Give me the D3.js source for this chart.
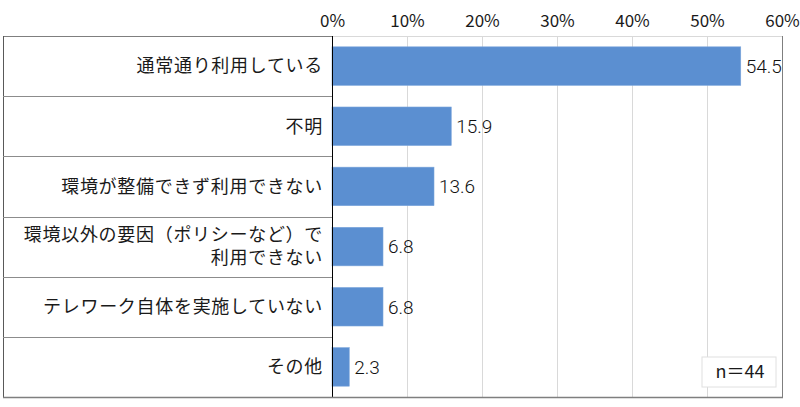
<!DOCTYPE html>
<html><head><meta charset="utf-8">
<script src="https://cdn.jsdelivr.net/npm/d3@7"></script>
<style>
html,body{margin:0;padding:0;background:#fff;}
svg{display:block;}
</style></head>
<body>
<svg id="c" width="800" height="407"></svg>
<script>
const categories = [
  ["通常通り利用している"],
  ["不明"],
  ["環境が整備できず利用できない"],
  ["環境以外の要因（ポリシーなど）で", "利用できない"],
  ["テレワーク自体を実施していない"],
  ["その他"]
];
const values = [54.5, 15.9, 13.6, 6.8, 6.8, 2.3];
const ticks = [0, 10, 20, 30, 40, 50, 60];
const note = "n＝44";

(function() {
const svg = d3.select("#c");
const pL = 332, pR = 782, pT = 36, pB = 397, tableLeft = 3;
const font = "'Noto Sans CJK JP', 'Noto Sans', sans-serif";
const numFont = "Roboto, 'Noto Sans', sans-serif";

const x = d3.scaleLinear().domain([0, 60]).range([pL, pR]);
const y = d3.scaleBand().domain(d3.range(categories.length)).range([pT, pB]).paddingInner(0.36).paddingOuter(0.18);
const rows = d3.scaleBand().domain(d3.range(categories.length)).range([pT, pB]);

// gridlines
svg.append("g").selectAll("line").data(ticks.slice(1, -1)).join("line")
  .attr("x1", d => Math.round(x(d)) + 0.5).attr("x2", d => Math.round(x(d)) + 0.5)
  .attr("y1", pT).attr("y2", pB)
  .attr("stroke", "#d9d9d9").attr("stroke-width", 1);

// plot top border
svg.append("line").attr("x1", pL).attr("x2", pR).attr("y1", pT + 0.5).attr("y2", pT + 0.5)
  .attr("stroke", "#d9d9d9");
// right border
svg.append("line").attr("x1", pR + 0.5).attr("x2", pR + 0.5).attr("y1", pT).attr("y2", pB)
  .attr("stroke", "#7f7f7f");

// table
svg.append("line").attr("x1", tableLeft).attr("x2", pL).attr("y1", pT + 0.5).attr("y2", pT + 0.5)
  .attr("stroke", "#7f7f7f");
svg.append("line").attr("x1", tableLeft + 0.5).attr("x2", tableLeft + 0.5).attr("y1", pT).attr("y2", pB)
  .attr("stroke", "#595959");
svg.append("g").selectAll("line").data(d3.range(1, categories.length)).join("line")
  .attr("x1", tableLeft).attr("x2", pL)
  .attr("y1", d => Math.round(rows(d)) + 0.5).attr("y2", d => Math.round(rows(d)) + 0.5)
  .attr("stroke", "#8c8c8c");

// bars
svg.append("g").selectAll("rect").data(values).join("rect")
  .attr("x", x(0)).attr("y", (d, i) => y(i))
  .attr("width", d => x(d) - x(0)).attr("height", y.bandwidth())
  .attr("fill", "#5b8fd1").attr("stroke", "#7aa5db").attr("stroke-width", 0.6);

// value labels
svg.append("g").selectAll("text").data(values).join("text")
  .attr("x", d => x(d) + 5).attr("y", (d, i) => y(i) + y.bandwidth() / 2)
  .attr("dy", "0.36em")
  .attr("font-family", numFont).attr("font-size", 19).attr("font-weight", 300)
  .attr("fill", "#111")
  .text(d => d.toFixed(1));

// category labels
const lh = 23;
const lab = svg.append("g").selectAll("text").data(categories).join("text")
  .attr("text-anchor", "end")
  .attr("font-family", font).attr("font-size", 18).attr("letter-spacing", 0.7).attr("fill", "#1a1a1a")
  .attr("x", 323)
  .attr("y", (d, i) => rows(i) + rows.bandwidth() / 2);
lab.each(function(d) {
  const t = d3.select(this);
  d.forEach((s, k) => {
    t.append("tspan").attr("x", 323)
      .attr("dy", k === 0 ? ((-(d.length - 1) * lh / 2) / 18 + 0.35) + "em" : lh + "px")
      .text(s);
  });
});

// category axis line
svg.append("line").attr("x1", pL + 0.5).attr("x2", pL + 0.5).attr("y1", pT).attr("y2", pB)
  .attr("stroke", "#000");

// bottom border
svg.append("line").attr("x1", tableLeft).attr("x2", pR + 1).attr("y1", pB + 0.5).attr("y2", pB + 0.5)
  .attr("stroke", "#7f7f7f").attr("stroke-width", 1.5);

// top tick labels
const axis = d3.axisTop(x).tickValues(ticks).tickFormat(d => d + "%").tickSize(0).tickPadding(0);
const ax = svg.append("g").attr("transform", "translate(0,27)").call(axis);
ax.select(".domain").remove();
ax.selectAll("text").attr("font-family", font).attr("font-size", 17).attr("fill", "#1a1a1a").attr("dy", 0);

// note box
const nb = svg.append("g");
nb.append("rect").attr("x", 702).attr("y", 357).attr("width", 74).attr("height", 30)
  .attr("fill", "#fff").attr("stroke", "#e0e0e0");
nb.append("text").attr("x", 740).attr("y", 372).attr("dy", "0.36em").attr("text-anchor", "middle")
  .attr("font-family", font).attr("font-size", 18).attr("fill", "#1a1a1a").text(note);
})();
</script>
</body></html>
